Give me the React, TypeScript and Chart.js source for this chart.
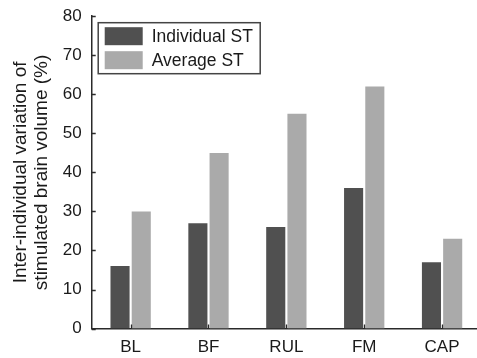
import React, { useEffect, useRef } from "react";
import { Chart, registerables } from "chart.js";

Chart.register(...registerables);

const categories = ["BL", "BF", "RUL", "FM", "CAP"];
const individualST = [16, 27, 26, 36, 17];
const averageST = [30, 45, 55, 62, 23];
const seriesNames = ["Individual ST", "Average ST"];
const yTitle = ["Inter-individual variation of", "stimulated brain volume (%)"];

const FONT = "'Liberation Sans', Arial, sans-serif";
const AXIS = "#2a2a2a";
const TEXT = "#1a1a1a";

const innerTicks = {
  id: "innerTicks",
  afterDraw(chart: any) {
    const ctx = chart.ctx;
    const a = chart.chartArea;
    const ys = chart.scales.y;
    const xs = chart.scales.x;
    ctx.save();
    ctx.strokeStyle = AXIS;
    ctx.lineWidth = 1.3;
    ctx.beginPath();
    ys.ticks.forEach((t: any) => {
      const p = Math.round(ys.getPixelForValue(t.value)) + 0.5;
      ctx.moveTo(a.left, p);
      ctx.lineTo(a.left + 4, p);
    });
    xs.ticks.forEach((_t: any, i: number) => {
      const p = Math.round(xs.getPixelForTick(i)) + 0.5;
      ctx.moveTo(p, a.bottom);
      ctx.lineTo(p, a.bottom - 4);
    });
    ctx.stroke();
    ctx.restore();
  },
};

const boxLegend = {
  id: "boxLegend",
  afterDraw(chart: any) {
    const ctx = chart.ctx;
    const a = chart.chartArea;
    const x0 = a.left + 6;
    const y0 = a.top + 6;
    const w = 162;
    const h = 51;
    ctx.save();
    ctx.fillStyle = "#ffffff";
    ctx.fillRect(x0, y0, w, h);
    ctx.strokeStyle = "#444444";
    ctx.lineWidth = 1.5;
    ctx.strokeRect(x0 + 0.5, y0 + 0.5, w, h);
    ctx.font = `17.5px ${FONT}`;
    ctx.textBaseline = "middle";
    ctx.textAlign = "left";
    chart.data.datasets.forEach((ds: any, i: number) => {
      const sy = y0 + 5 + i * 24;
      ctx.fillStyle = ds.backgroundColor;
      ctx.fillRect(x0 + 7, sy, 38, 18);
      ctx.fillStyle = TEXT;
      ctx.fillText(ds.label, x0 + 54, sy + 9.5);
    });
    ctx.restore();
  },
};

export default function App() {
  const ref = useRef<HTMLCanvasElement>(null);
  useEffect(() => {
    if (!ref.current) return;
    const chart = new Chart(ref.current, {
      type: "bar",
      data: {
        labels: categories,
        datasets: [
          {
            label: seriesNames[0],
            data: individualST,
            backgroundColor: "#505050",
            categoryPercentage: 0.545,
            barPercentage: 0.9,
          },
          {
            label: seriesNames[1],
            data: averageST,
            backgroundColor: "#aaaaaa",
            categoryPercentage: 0.545,
            barPercentage: 0.9,
          },
        ],
      },
      options: {
        responsive: false,
        animation: false,
        layout: { padding: { top: 2, left: 0, right: 0, bottom: 2 } },
        plugins: {
          legend: { display: false },
          tooltip: { enabled: false },
        },
        scales: {
          x: {
            grid: { display: false, drawTicks: false },
            border: { display: true, color: AXIS, width: 1.5 },
            ticks: {
              color: TEXT,
              font: { family: FONT, size: 17 },
              padding: 9,
              maxRotation: 0,
            },
          },
          y: {
            min: 0,
            max: 80,
            grid: { display: false, drawTicks: false },
            border: { display: true, color: AXIS, width: 1.5 },
            ticks: {
              stepSize: 10,
              color: TEXT,
              font: { family: FONT, size: 17 },
              padding: 10,
            },
            title: {
              display: true,
              text: yTitle,
              color: TEXT,
              font: { family: FONT, size: 19, lineHeight: 1.1 },
              padding: { top: 10.5, bottom: 0.5 },
            },
          },
        },
      },
      plugins: [innerTicks, boxLegend],
    });
    return () => chart.destroy();
  }, []);
  return (
    <div
      style={{
        position: "fixed",
        left: 0,
        top: 0,
        width: 477,
        height: 358,
        overflow: "hidden",
        background: "#fff",
      }}
    >
      <canvas
        ref={ref}
        width={481}
        height={373}
        style={{ display: "block", marginTop: -4 }}
      />
    </div>
  );
}
